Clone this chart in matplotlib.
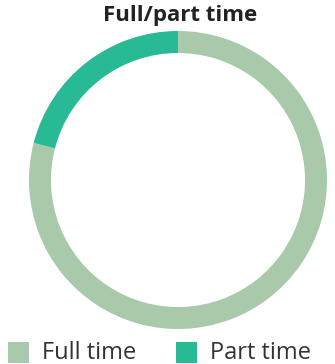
import matplotlib
matplotlib.use("Agg")
import matplotlib.pyplot as plt
from matplotlib.patches import Rectangle

title = "Full/part time"
categories = ["Full time", "Part time"]
values = [79, 21]
colors = ["#A9C9AB", "#27BA94"]

plt.rcParams["font.family"] = ["Open Sans", "DejaVu Sans"]

fig = plt.figure(figsize=(3.35, 3.64), dpi=100)
ax = fig.add_axes([(178 - 149) / 335, 1 - (180 + 149) / 364, 298 / 335, 298 / 364])
ax.pie(values, colors=colors, startangle=90, counterclock=False,
       wedgeprops=dict(width=22 / 149, linewidth=0), radius=1)
ax.set_xlim(-1, 1)
ax.set_ylim(-1, 1)
ax.set_aspect("equal")
ax.axis("off")

fig.text(180 / 335, 1 - 15 / 364, title, ha="center", va="center",
         fontsize=16, fontweight="bold", color="#222222")

# legend row
legend_items = [(8, categories[0], colors[0]), (176, categories[1], colors[1])]
for x0, label, col in legend_items:
    fig.patches.append(Rectangle((x0 / 335, 1 - 363 / 364), 21 / 335, 21 / 364,
                                 transform=fig.transFigure, color=col, linewidth=0))
    fig.text((x0 + 34) / 335, 1 - 353 / 364, label, ha="left", va="center",
             fontsize=17, color="#333333")

fig.savefig("out.png", dpi=100)
